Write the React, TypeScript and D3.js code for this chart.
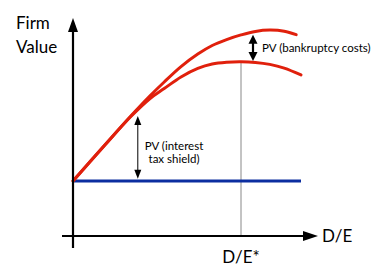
import React from "react";
import * as d3 from "d3";

// Leverage ratio grid (D/E, arbitrary units) and firm values
const deLevered = [0, 13, 24, 32, 38, 45, 52, 58, 64, 70, 76, 82, 88, 93];
const valueTaxOnly = [25, 41, 54.4, 63.6, 70, 77, 82.7, 86.6, 89.3, 91.4, 93, 93.6, 93.1, 91.5];

const deWithCosts = [0, 13, 24, 32, 38, 45, 52, 58, 64, 70, 76, 82, 88, 95];
const valueWithCosts = [25, 41, 54.2, 62.4, 67, 72.3, 76.2, 78.2, 79, 79.2, 78.9, 78, 76.3, 73.2];

const deRange = [0, 95];
const unleveredValue = 25;
const optimalDE = 70;

// Annotation arrows: [x position, from value, to value]
const taxShieldArrow = [27, 26, 54.5];
const bankruptcyArrow = [75, 79.5, 91.5];

const FONT = "Lato, 'Noto Sans', sans-serif";

export default function App() {
  const W = 384;
  const H = 279;
  const x = d3.scaleLinear().domain([0, 100]).range([73, 313]);
  const y = d3.scaleLinear().domain([0, 100]).range([236, 16]);

  const line = d3
    .line<[number, number]>()
    .x((d) => x(d[0]))
    .y((d) => y(d[1]))
    .curve(d3.curveCatmullRom.alpha(0.5));

  const upper = line(deLevered.map((d, i) => [d, valueTaxOnly[i]]));
  const lower = line(deWithCosts.map((d, i) => [d, valueWithCosts[i]]));

  const peakValue = valueWithCosts[deWithCosts.indexOf(optimalDE)];

  const red = "#e0200c";
  const blue = "#0c2ea0";

  const ax = x(0);
  const ay = y(0);

  const arrowV = (
    cx: number,
    y1: number,
    y2: number,
    sw: number,
    hw: number,
    hh: number
  ) => (
    <g>
      <line x1={cx} x2={cx} y1={y1 + hh * 0.8} y2={y2 - hh * 0.8} stroke="#000" strokeWidth={sw} />
      <path d={`M${cx},${y1} L${cx - hw / 2},${y1 + hh} L${cx + hw / 2},${y1 + hh} Z`} fill="#000" />
      <path d={`M${cx},${y2} L${cx - hw / 2},${y2 - hh} L${cx + hw / 2},${y2 - hh} Z`} fill="#000" />
    </g>
  );

  return (
    <svg
      width={W}
      height={H}
      style={{ position: "absolute", left: 0, top: 0, background: "#fff" }}
      fontFamily={FONT}
    >
      {/* optimal leverage guide */}
      <line
        x1={x(optimalDE)}
        x2={x(optimalDE)}
        y1={y(peakValue)}
        y2={ay}
        stroke="#888"
        strokeWidth={1}
      />

      {/* unlevered firm value */}
      <line
        x1={x(deRange[0])}
        x2={x(deRange[1])}
        y1={y(unleveredValue)}
        y2={y(unleveredValue)}
        stroke={blue}
        strokeWidth={3}
      />

      {/* levered firm value curves */}
      <path d={upper ?? ""} fill="none" stroke={red} strokeWidth={3} strokeLinecap="round" />
      <path d={lower ?? ""} fill="none" stroke={red} strokeWidth={3} strokeLinecap="round" />

      {/* axes */}
      <line x1={ax} x2={ax} y1={248} y2={30} stroke="#000" strokeWidth={2.2} />
      <path d={`M${ax},18 L${ax - 5},32 L${ax + 5},32 Z`} fill="#000" />
      <line x1={62} x2={306} y1={ay} y2={ay} stroke="#000" strokeWidth={2.2} />
      <path d={`M318,${ay} L303,${ay - 5} L303,${ay + 5} Z`} fill="#000" />

      {/* annotation arrows */}
      {arrowV(x(taxShieldArrow[0]), y(taxShieldArrow[2]), y(taxShieldArrow[1]), 1, 7, 9)}
      {arrowV(x(bankruptcyArrow[0]), y(bankruptcyArrow[2]), y(bankruptcyArrow[1]), 2.2, 9, 9)}

      {/* labels */}
      <text x={16} y={29} fontSize={17} fill="#000">Firm</text>
      <text x={16} y={53} fontSize={17} fill="#000">Value</text>
      <text x={322} y={242} fontSize={17} fill="#000">D/E</text>
      <text x={x(optimalDE)} y={263} fontSize={17} fill="#000" textAnchor="middle">D/E*</text>
      <text x={262} y={52} fontSize={11.5} fill="#000">PV (bankruptcy costs)</text>
      <text x={174} y={150} fontSize={11.5} fill="#000" textAnchor="middle">PV (interest</text>
      <text x={174} y={163} fontSize={11.5} fill="#000" textAnchor="middle">tax shield)</text>
    </svg>
  );
}
